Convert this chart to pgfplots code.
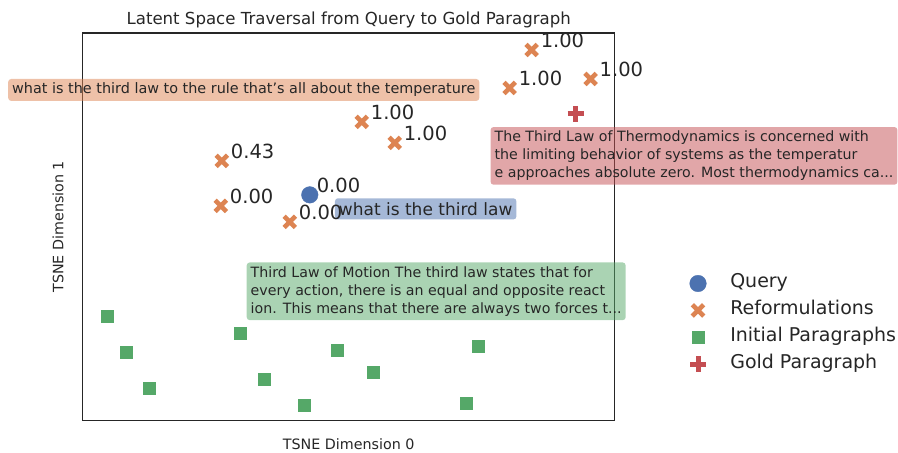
\documentclass[border=0pt]{standalone}
\usepackage{pgfplots}
\pgfplotsset{compat=1.18}
\usepackage{fontspec}
\setmainfont{DejaVu Sans}
\definecolor{sbblue}{HTML}{4C72B0}
\definecolor{sborange}{HTML}{DD8452}
\definecolor{sbgreen}{HTML}{55A868}
\definecolor{sbred}{HTML}{C44E52}
\definecolor{txt}{gray}{0.15}
\begin{document}
\begin{tikzpicture}
\begin{axis}[
  scale only axis, width=532pt, height=388pt,
  xmin=83, xmax=615, ymin=29, ymax=417,
  xtick=\empty, ytick=\empty,
  axis line style={color=txt, line width=1.1pt},
  clip=false,
  title={Latent Space Traversal from Query to Gold Paragraph},
  title style={at={(axis description cs:0.5,1.018)}, anchor=center, yshift=0pt, font=\fontsize{16.6}{19}\selectfont, text=txt},
  xlabel={TSNE Dimension 0},
  xlabel style={at={(axis description cs:0.5,-0.0593)}, anchor=center, font=\fontsize{14.3}{17}\selectfont, text=txt},
  ylabel={TSNE Dimension 1},
  ylabel style={at={(axis description cs:-0.047,0.5)}, anchor=center, rotate=0, font=\fontsize{14.3}{17}\selectfont, text=txt},
  legend style={at={(axis cs:690,177)}, anchor=north west, draw=none, fill=none,
    font=\fontsize{19}{22}\selectfont, text=txt,
    nodes={text height=13pt, text depth=4pt}, row sep=6pt, column sep=22pt, inner sep=0pt},
  legend cell align=left,
  nodes near coords align={anchor=west},
]
% Query
\addplot[only marks, mark=*, mark size=8.3pt, color=sbblue,
  nodes near coords, point meta=explicit symbolic,
  every node near coord/.append style={anchor=west, xshift=3.5pt, yshift=9.5pt, font=\fontsize{19.5}{22}\selectfont, text=txt}]
  table[meta=lab] {
x y lab
310 255 0.00
};
\addlegendentry{Query}
% Reformulations
\addplot[only marks, mark=x, mark size=8pt, color=sborange, mark options={line width=4.6pt},
  nodes near coords, point meta=explicit symbolic,
  every node near coord/.append style={anchor=west, xshift=3.5pt, yshift=9.5pt, font=\fontsize{19.5}{22}\selectfont, text=txt}]
  table[meta=lab] {
x y lab
222 289 0.43
221 244 0.00
290 228 0.00
362 328 1.00
395 307 1.00
532 400 1.00
510 362 1.00
591 371 1.00
};
\addlegendentry{Reformulations}
% Initial paragraphs
\addplot[only marks, mark=square*, mark size=6pt, color=sbgreen]
  table {
x y
107 134
126 98
149 62
240 117
264 71
304 45
337 100
373 78
479 104
467 47
};
\addlegendentry{Initial Paragraphs}
% Gold
\addplot[only marks, mark=+, mark size=8pt, color=sbred, mark options={line width=5pt}]
  table {
x y
576 336
};
\addlegendentry{Gold Paragraph}
% text boxes
\node[anchor=west, fill=sborange, fill opacity=0.5, text opacity=1, text=txt, rounded corners=3pt, inner sep=4pt,
  font=\fontsize{14.4}{17}\selectfont] at (axis cs:8,360) {what is the third law to the rule that's all about the temperature};
\node[anchor=center, fill=sbblue, fill opacity=0.5, text opacity=1, text=txt, rounded corners=3pt, inner sep=4pt,
  font=\fontsize{17}{20}\selectfont] at (axis cs:426,241) {what is the third law};
\node[anchor=center, fill=sbred, fill opacity=0.5, text opacity=1, text=txt, rounded corners=3pt, inner sep=4pt, align=left,
  font=\fontsize{14.2}{18}\selectfont] at (axis cs:694.5,294) {The Third Law of Thermodynamics is concerned with\\the limiting behavior of systems as the temperatur\\e approaches absolute zero. Most thermodynamics ca...};
\node[anchor=center, fill=sbgreen, fill opacity=0.5, text opacity=1, text=txt, rounded corners=3pt, inner sep=4pt, align=left,
  font=\fontsize{14.2}{18}\selectfont] at (axis cs:436.5,158.5) {Third Law of Motion The third law states that for\\every action, there is an equal and opposite react\\ion. This means that there are always two forces t...};
\path (axis cs:0,0) rectangle (axis cs:898,450);
\end{axis}
\end{tikzpicture}
\end{document}
